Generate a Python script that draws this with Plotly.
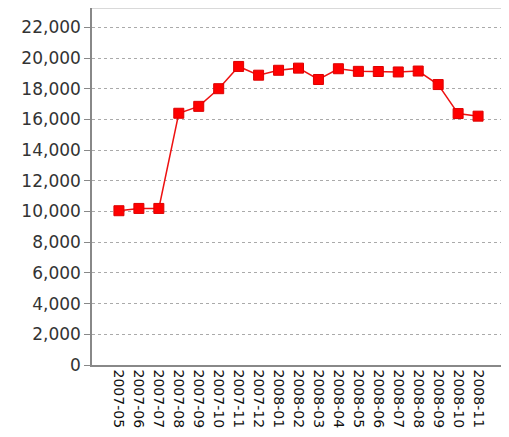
import plotly.graph_objects as go

months = ["2007-05", "2007-06", "2007-07", "2007-08", "2007-09", "2007-10", "2007-11",
          "2007-12", "2008-01", "2008-02", "2008-03", "2008-04", "2008-05", "2008-06",
          "2008-07", "2008-08", "2008-09", "2008-10", "2008-11"]
values = [10050, 10200, 10200, 16400, 16850, 18000, 19450, 18880, 19200, 19340,
          18600, 19300, 19130, 19120, 19090, 19150, 18270, 16380, 16210]
y_ticks = list(range(0, 22001, 2000))

fig = go.Figure()
fig.add_trace(go.Scatter(
    x=list(range(len(months))), y=values, mode="lines+markers",
    line=dict(color="#ee1111", width=1.5),
    marker=dict(symbol="square", size=10, color="#ff0000",
                line=dict(color="#dd0000", width=1)),
    showlegend=False, hoverinfo="skip"))

# page body has an 8px margin, so the figure is sized and offset to compensate
fig.update_layout(
    width=501, height=429,
    margin=dict(l=84, r=4, t=0, b=72),
    paper_bgcolor="white", plot_bgcolor="white",
    font=dict(family="DejaVu Sans", color="#333333"),
    shapes=[
        dict(type="line", xref="paper", yref="paper", x0=0, x1=1, y0=1, y1=1,
             line=dict(color="#cccccc", width=1.5)),
        dict(type="line", xref="paper", yref="paper", x0=1, x1=1, y0=0, y1=1,
             line=dict(color="#cccccc", width=1.5)),
    ],
)
fig.update_xaxes(
    range=[-1.35, len(months) - 1 + 1.35],
    tickmode="array", tickvals=list(range(len(months))), ticktext=months,
    tickangle=90, tickfont=dict(size=14, color="#111111"),
    showgrid=False, zeroline=False, showline=True, linecolor="#888888", linewidth=1.5,
    ticks="", automargin=False)
fig.update_yaxes(
    range=[0, 23257], tickmode="array", tickvals=y_ticks,
    ticktext=[f"{v:,}" for v in y_ticks],
    tickfont=dict(size=17, color="#333333"),
    showgrid=True, gridcolor="#aaaaaa", griddash="3px,3px", gridwidth=1,
    zeroline=False, showline=True, linecolor="#888888", linewidth=1.5,
    ticks="outside", ticklen=6, tickcolor="#888888", automargin=False)

fig.write_html("out.html")
